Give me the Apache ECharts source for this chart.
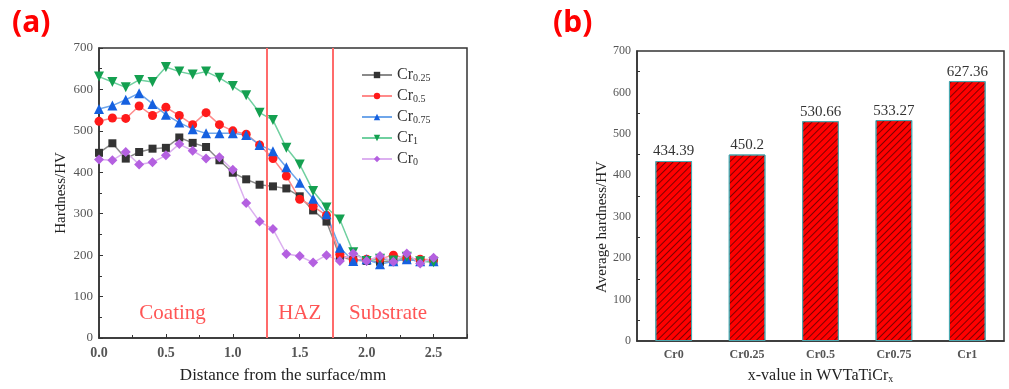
<!DOCTYPE html>
<html>
<head>
<meta charset="utf-8">
<script src="https://cdn.jsdelivr.net/npm/echarts@6/dist/echarts.min.js"></script>
<style>
html,body{margin:0;padding:0;background:#fff;}
#main{width:1009px;height:389px;}
</style>
</head>
<body>
<div id="main"></div>
<script>
// ---- Panel (a) data ----
const distances = [0.0,0.1,0.2,0.3,0.4,0.5,0.6,0.7,0.8,0.9,1.0,1.1,1.2,1.3,1.4,1.5,1.6,1.7,1.8,1.9,2.0,2.1,2.2,2.3,2.4,2.5];
const cr025 = [447,470,433,449,457,459,484,471,461,429,399,383,370,366,361,342,308,281,196,188,186,184,186,190,185,187];
const cr05  = [523,531,530,560,537,557,537,515,544,515,500,492,466,433,391,335,318,296,202,188,190,191,200,192,190,189];
const cr075 = [553,561,575,591,565,539,520,504,494,494,494,490,466,451,412,375,336,299,218,186,190,178,185,190,185,185];
const cr1   = [631,618,605,623,618,654,643,636,643,628,608,586,544,526,459,419,355,315,286,207,186,191,187,196,185,183];
const cr0   = [431,429,449,419,424,441,468,452,433,436,406,326,281,263,203,198,182,200,186,204,186,198,184,204,180,194];
const zoneBounds = [1.25, 1.75];
const zoneLabels = ['Coating','HAZ','Substrate'];
const zoneLabelX = [0.55, 1.5, 2.16];
const zoneLabelY = [60, 60, 60];

// ---- Panel (b) data ----
const barCategories = ['Cr0','Cr0.25','Cr0.5','Cr0.75','Cr1'];
const barValues = [434.39, 450.2, 530.66, 533.27, 627.36];

const serif = '"Liberation Serif","DejaVu Serif",serif';
const zip = (ys) => distances.map((x,i)=>[x, ys[i]]);

function lineSeries(name, ys, marker, lineColor, symbol, size){
  return {
    name: name, type:'line', xAxisIndex:0, yAxisIndex:0,
    data: zip(ys), symbol: symbol, symbolSize: size,
    itemStyle:{color: marker},
    lineStyle:{color: lineColor, width:1.5},
    emphasis:{disabled:true},
    z: 3
  };
}

const axisLineStyle = {lineStyle:{color:'#333', width:1.5}};

const option = {
  animation:false,
  backgroundColor:'#fff',
  graphic:[
    {type:'text', left:12, top:8, style:{text:'(a)', font:'bold 30px "Noto Sans", "DejaVu Sans", sans-serif', fill:'#ff0000'}},
    {type:'text', left:553, top:8, style:{text:'(b)', font:'bold 30px "Noto Sans", "DejaVu Sans", sans-serif', fill:'#ff0000'}}
  ],
  legend:{
    data:['Cr0.25','Cr0.5','Cr0.75','Cr1','Cr0'],
    orient:'vertical', left:356, top:62,
    itemWidth:30, itemHeight:8, itemGap:5,
    formatter: n => 'Cr{s|' + n.slice(2) + '}',
    textStyle:{fontFamily:serif, fontSize:16, color:'#333', lineHeight:16,
      rich:{s:{fontFamily:serif, fontSize:10, color:'#333', verticalAlign:'bottom', lineHeight:16, padding:[6,0,0,0]}}}
  },
  grid:[
    {left:99, right:542, top:48, bottom:46, show:true, borderColor:'#333', borderWidth:1.5},
    {left:637, right:5, top:51, bottom:42, show:true, borderColor:'#333', borderWidth:1.5}
  ],
  xAxis:[
    {type:'value', gridIndex:0, min:0, max:2.75, interval:0.5,
     axisLine:axisLineStyle,
     axisTick:{inside:true, length:4, lineStyle:{color:'#333'}},
     minorTick:{show:true, splitNumber:2, length:3, lineStyle:{color:'#333'}},
     splitLine:{show:false},
     axisLabel:{fontFamily:serif, fontSize:14, fontWeight:'bold', color:'#555', margin:8,
       formatter: v => (v > 2.6 ? '' : v.toFixed(1))},
     name:'Distance from the surface/mm', nameLocation:'middle', nameGap:29,
     nameTextStyle:{fontFamily:serif, fontSize:17, color:'#222'}},
    {type:'category', gridIndex:1, data:barCategories,
     axisLine:axisLineStyle,
     axisTick:{inside:true, alignWithLabel:true, length:4, lineStyle:{color:'#333'}},
     axisLabel:{fontFamily:serif, fontSize:12, fontWeight:'bold', color:'#555', margin:8},
     name:'x-value in WVTaTiCr{s|x}', nameLocation:'middle', nameGap:27,
     nameTextStyle:{fontFamily:serif, fontSize:16, color:'#222',
       rich:{s:{fontFamily:serif, fontSize:10, color:'#222', verticalAlign:'bottom', padding:[6,0,0,0]}}}}
  ],
  yAxis:[
    {type:'value', gridIndex:0, min:0, max:700, interval:100,
     axisLine:{show:true, lineStyle:{color:'#333', width:1.5}},
     axisTick:{inside:true, length:4, lineStyle:{color:'#333'}},
     minorTick:{show:true, splitNumber:2, length:3, lineStyle:{color:'#333'}},
     splitLine:{show:false},
     axisLabel:{fontFamily:serif, fontSize:13, color:'#555', margin:6},
     name:'Hardness/HV', nameLocation:'middle', nameGap:30,
     nameTextStyle:{fontFamily:serif, fontSize:15, color:'#222'}},
    {type:'value', gridIndex:1, min:0, max:700, interval:100,
     axisLine:{show:true, lineStyle:{color:'#333', width:1.5}},
     axisTick:{inside:true, length:4, lineStyle:{color:'#333'}},
     minorTick:{show:true, splitNumber:2, length:3, lineStyle:{color:'#333'}},
     splitLine:{show:false},
     axisLabel:{fontFamily:serif, fontSize:12, color:'#555', margin:6},
     name:'Average hardness/HV', nameLocation:'middle', nameGap:27,
     nameTextStyle:{fontFamily:serif, fontSize:15, color:'#222', padding:[0,62,0,0]}}
  ],
  series:[
    lineSeries('Cr0.25', cr025, '#333333', '#8a8a8a', 'rect', 8),
    lineSeries('Cr0.5',  cr05,  '#ff1a1a', '#ff8a8a', 'circle', 9),
    lineSeries('Cr0.75', cr075, '#1560e0', '#6fa6ea', 'triangle', 10),
    lineSeries('Cr1',    cr1,   '#14a050', '#70d0a0', 'path://M0,0 L10,0 L5,9 Z', 10),
    lineSeries('Cr0',    cr0,   '#b460e0', '#dcb0f0', 'diamond', 10),
    {
      name:'zones', type:'scatter', xAxisIndex:0, yAxisIndex:0,
      data: zoneLabels.map((t,i)=>({name:t, value:[zoneLabelX[i], zoneLabelY[i]]})),
      symbolSize:0, silent:true,
      label:{show:true, position:'inside', formatter:p=>p.name, fontFamily:serif, fontSize:21, color:'#ff2a2a'},
      markLine:{
        silent:true, symbol:['none','none'],
        label:{show:false},
        lineStyle:{color:'#ff6b6b', width:2, type:'solid'},
        data: zoneBounds.map(x=>({xAxis:x}))
      },
      z: 2
    },
    {
      name:'Average', type:'bar', xAxisIndex:1, yAxisIndex:1,
      data: barValues, barWidth:'50%',
      itemStyle:{color:'#ff0000', borderColor:'#4aa8b0', borderWidth:1,
        decal:{symbol:'rect', symbolSize:1, color:'rgba(40,0,0,0.6)', dashArrayX:[1,0], dashArrayY:[1,4], rotation:-Math.PI/4}},
      label:{show:true, position:'top', distance:2, fontFamily:serif, fontSize:15, color:'#333',
        formatter:p=>String(p.value)},
      emphasis:{disabled:true}
    }
  ]
};

const chart = echarts.init(document.getElementById('main'), null, {renderer:'canvas'});
chart.setOption(option);
</script>
</body>
</html>
